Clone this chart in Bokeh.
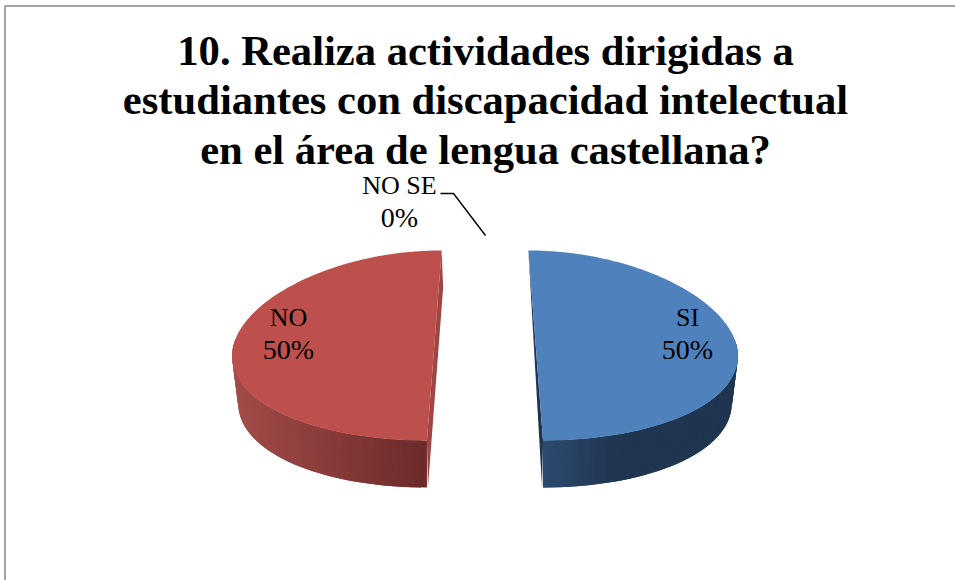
import math
from bokeh.embed import file_html
from bokeh.models import Range1d
from bokeh.plotting import figure
from bokeh.resources import INLINE
from bokeh.core.properties import value

# --- data -------------------------------------------------------------
categories = ["SI", "NO", "NO SE"]
percent = [50, 50, 0]
title_lines = [
    "10. Realiza actividades dirigidas a",
    "estudiantes con discapacidad intelectual",
    "en el área de lengua castellana?",
]

# --- styles / layout ----------------------------------------------------
W, H = 955, 580
top_colors = {"SI": "#4f81bd", "NO": "#bd4f4c"}
strip_colors = {"SI": "#1f3552", "NO": "#a04543"}
wall_stops = {
    "SI": [(0.0, (45, 75, 112)), (0.4, (31, 53, 80)), (1.0, (31, 53, 80))],
    "NO": [(0.0, (162, 76, 72)), (1.0, (107, 41, 42))],
}
CX, CY = 484.5, 345.0     # pie centre
RX, RY = 199.0, 95.0      # top ellipse
RXB = 193.0               # bottom ellipse, a bit narrower
DEPTH = 47.0
EXPLODE = 50.7
PERSP = 0.145
BELLY = 6.0               # perspective: the rim's widest part sits higher than the centre
label_pos = {"SI": (687, 333), "NO": (288, 333), "NO SE": (399, 201)}
LABEL_SPACING = 32

p = figure(width=W, height=H, x_range=Range1d(0, W), y_range=Range1d(H, 0),
           toolbar_location=None, output_backend="svg", min_border=0)
p.axis.visible = False
p.grid.visible = False
p.outline_line_color = None
p.background_fill_color = "white"
p.border_fill_color = "white"

# chart frame (only top and left edges visible)
p.line([4.5, 4.5, W], [H, 5.5, 5.5], line_color="#868686", line_width=1.5)


def point(t, direction, rx, depth):
    """Screen position of rim angle t (clockwise from 12 o'clock) of an exploded slice."""
    s = 1 - PERSP * math.cos(t)
    x = CX + (direction * EXPLODE + rx * math.sin(t)) * s
    y = CY - RY * math.cos(t) - BELLY * math.sin(t) ** 2 + depth
    return x, y


def lerp_color(stops, f):
    for (f0, c0), (f1, c1) in zip(stops, stops[1:]):
        if f <= f1:
            k = (f - f0) / (f1 - f0) if f1 > f0 else 0
            return "#%02x%02x%02x" % tuple(round(a + (b - a) * k) for a, b in zip(c0, c1))
    return "#%02x%02x%02x" % stops[-1][1]


total = sum(percent)
start = 0.0
for name, val in zip(categories, percent):
    sweep = 2 * math.pi * val / total
    end = start + sweep
    if val == 0:
        start = end
        continue
    mid = (start + end) / 2
    direction = 1 if math.sin(mid) > 0 else -1
    n = 120
    ts = [start + sweep * i / n for i in range(n + 1)]

    # chord face (thin strip)
    top_a = point(start, direction, RX, 0)
    top_b = point(end, direction, RX, 0)
    inner_top, inner_bot = (top_a, top_b) if direction > 0 else (top_b, top_a)
    bot = (inner_bot[0], inner_bot[1] + DEPTH)
    bulge = (inner_top[0] + 1.5, inner_top[1] + 37) if direction < 0 else inner_top
    p.patch([inner_top[0], bulge[0], bot[0] - direction, inner_bot[0]],
            [inner_top[1], bulge[1], bot[1], inner_bot[1]],
            fill_color=strip_colors[name], line_color=None)

    # outer wall, as narrow strips following the gradient; each strip
    # overlaps the next one, drawn from the outer side inwards
    vis = [t for t in ts if math.pi / 2 - 0.02 <= (t if direction > 0 else 2 * math.pi - t) <= math.pi + 1e-9]
    xs = [point(t, direction, RX, 0)[0] for t in vis]
    lo, hi = min(xs), max(xs)
    order = sorted(range(len(vis)), key=lambda i: abs(vis[i] - math.pi))
    for i in order:
        a = vis[i]
        b = vis[max(i - 1, 0)] if i > 0 else vis[i + 1]
        c = vis[min(i + 1, len(vis) - 1)]
        xa, ya = point(b, direction, RX, 0)
        xb, yb = point(c, direction, RX, 0)
        xc, yc = point(c, direction, RXB, DEPTH)
        xd, yd = point(b, direction, RXB, DEPTH)
        f = (point(a, direction, RX, 0)[0] - lo) / (hi - lo)
        col = lerp_color(wall_stops[name], f)
        p.patch([xa, xb, xc, xd], [ya, yb, yc, yd], fill_color=col, line_color=None)

    # top face
    pts = [point(t, direction, RX, 0) for t in ts]
    p.patch([q[0] for q in pts], [q[1] for q in pts],
            fill_color=top_colors[name], line_color=None)
    start = end

# leader line for the zero slice
p.line([440, 453, 485], [193, 193, 235], line_color="black", line_width=1.4)

# data labels
for name, val in zip(categories, percent):
    lx, ly = label_pos[name]
    p.text([lx], [ly - LABEL_SPACING / 2], text=[name], text_align="center", text_baseline="middle",
           text_font=value("Liberation Serif"), text_font_size="26px", text_color="black")
    p.text([lx], [ly + LABEL_SPACING / 2], text=[f"{val}%"], text_align="center", text_baseline="middle",
           text_font=value("Liberation Serif"), text_font_size="28px", text_color="black")

# title
p.text([485, 485, 485], [50, 99, 149], text=title_lines,
       text_align="center", text_baseline="middle", text_font=value("Liberation Serif"),
       text_font_style="bold", text_font_size="42.6px", text_color="black")

open("out.html", "w").write(file_html(p, INLINE))
